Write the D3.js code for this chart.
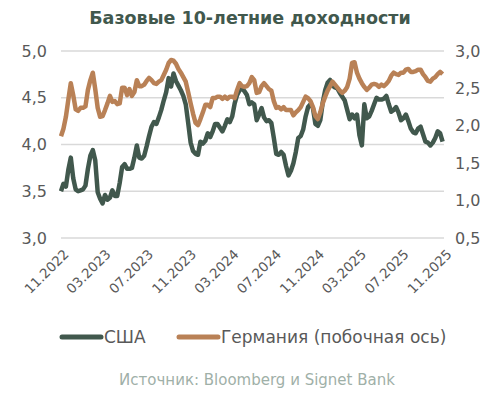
<!DOCTYPE html>
<html>
<head>
<meta charset="utf-8">
<script src="https://cdn.jsdelivr.net/npm/d3@7"></script>
<style>
  body { margin: 0; background: #fff; }
  svg text { font-family: "DejaVu Sans", sans-serif; }
</style>
</head>
<body>
<svg width="498" height="397"></svg>
<script>
// weekly observations, first week starts 1 Nov 2022
var usYields = [
  3.50, 3.58, 3.55, 3.73, 3.86, 3.64, 3.52, 3.50, 3.51, 3.52,
  3.56, 3.74, 3.88, 3.94, 3.83, 3.49, 3.42, 3.37, 3.46, 3.41,
  3.43, 3.51, 3.45, 3.45, 3.59, 3.76, 3.79, 3.74, 3.74, 3.75,
  3.86, 3.99, 3.86, 3.85, 3.88, 3.98, 4.09, 4.19, 4.24, 4.22,
  4.29, 4.37, 4.47, 4.56, 4.71, 4.62, 4.76, 4.68, 4.63, 4.58,
  4.52, 4.43, 4.23, 4.02, 3.93, 3.90, 3.89, 4.03, 4.01, 4.04,
  4.12, 4.08, 4.14, 4.22, 4.22, 4.18, 4.14, 4.20, 4.27, 4.24,
  4.30, 4.44, 4.53, 4.58, 4.60, 4.57, 4.53, 4.43, 4.45, 4.43,
  4.26, 4.32, 4.39, 4.29, 4.25, 4.26, 4.23, 4.07, 3.90, 3.89,
  3.92, 3.89, 3.77, 3.67, 3.72, 3.80, 3.92, 4.07, 4.09, 4.16,
  4.30, 4.40, 4.43, 4.39, 4.22, 4.20, 4.26, 4.45, 4.58, 4.66,
  4.69, 4.63, 4.61, 4.60, 4.55, 4.51, 4.47, 4.37, 4.27, 4.32,
  4.28, 4.32, 4.10, 3.99, 4.43, 4.28, 4.30, 4.36, 4.43, 4.50,
  4.48, 4.48, 4.49, 4.52, 4.43, 4.35, 4.37, 4.40, 4.34, 4.26,
  4.28, 4.32, 4.25, 4.17, 4.13, 4.12, 4.17, 4.19, 4.11, 4.03,
  4.02, 3.99, 4.02, 4.07, 4.14, 4.12, 4.03
];

var deYields = [
  1.86, 1.96, 2.12, 2.35, 2.57, 2.41, 2.22, 2.20, 2.24, 2.24,
  2.26, 2.48, 2.61, 2.71, 2.49, 2.24, 2.12, 2.13, 2.21, 2.30,
  2.40, 2.32, 2.33, 2.29, 2.30, 2.51, 2.51, 2.41, 2.49, 2.40,
  2.45, 2.61, 2.53, 2.53, 2.55, 2.60, 2.64, 2.61, 2.57, 2.56,
  2.59, 2.61, 2.68, 2.75, 2.84, 2.88, 2.87, 2.83, 2.76, 2.71,
  2.65, 2.59, 2.45, 2.30, 2.16, 2.04, 2.01, 2.09, 2.18, 2.28,
  2.28, 2.25, 2.37, 2.37, 2.39, 2.39, 2.36, 2.39, 2.36, 2.39,
  2.39, 2.37, 2.48, 2.57, 2.53, 2.52, 2.53, 2.57, 2.65, 2.61,
  2.44, 2.45, 2.53, 2.57, 2.53, 2.49, 2.47, 2.33, 2.24, 2.25,
  2.22, 2.25, 2.21, 2.21, 2.21, 2.14, 2.18, 2.21, 2.25, 2.32,
  2.39, 2.37, 2.33, 2.25, 2.13, 2.09, 2.18, 2.30, 2.39, 2.47,
  2.53, 2.59, 2.55, 2.51, 2.47, 2.44, 2.47, 2.52, 2.63, 2.84,
  2.85, 2.71, 2.63, 2.57, 2.52, 2.48, 2.51, 2.55, 2.56, 2.55,
  2.52, 2.55, 2.53, 2.56, 2.60, 2.67, 2.71, 2.69, 2.68, 2.71,
  2.71, 2.75, 2.76, 2.72, 2.72, 2.73, 2.75, 2.75, 2.69, 2.65,
  2.60, 2.59, 2.63, 2.65, 2.69, 2.72, 2.69
];

var firstWeek = new Date(2022, 10, 1);
var weeks = usYields.map(function(d, i) { return d3.timeDay.offset(firstWeek, 7 * i); });

var xTickLabels = ['11.2022', '03.2023', '07.2023', '11.2023', '03.2024',
                   '07.2024', '11.2024', '03.2025', '07.2025', '11.2025'];
var leftTicks = [3.0, 3.5, 4.0, 4.5, 5.0];
var rightTicks = [0.5, 1.0, 1.5, 2.0, 2.5, 3.0];

var seriesNames = ['США', 'Германия (побочная ось)'];
var colors = ['#41584d', '#b98156'];

var parseMonth = d3.timeParse('%m.%Y');
var xTicks = xTickLabels.map(parseMonth);

var svg = d3.select('svg');
var plotLeft = 61, plotRight = 444, plotTop = 51, plotBottom = 238;

var xScale = d3.scaleTime()
    .domain([parseMonth('11.2022'), parseMonth('11.2025')])
    .range([plotLeft, plotRight]);

var yLeft = d3.scaleLinear().domain([3, 5]).range([plotBottom, plotTop]);
var yRight = d3.scaleLinear().domain([0.5, 3]).range([plotBottom, plotTop]);

// title
svg.append('text')
    .attr('x', 250)
    .attr('y', 24)
    .attr('text-anchor', 'middle')
    .style('font-size', '17.5px')
    .style('font-weight', 'bold')
    .style('fill', '#41584d')
    .text('Базовые 10-летние доходности');

// grid
svg.append('g')
    .selectAll('line')
    .data(leftTicks)
    .enter()
    .append('line')
    .attr('x1', plotLeft)
    .attr('x2', plotRight)
    .attr('y1', function(d) { return yLeft(d); })
    .attr('y2', function(d) { return yLeft(d); })
    .style('stroke', '#d9d9d9')
    .style('stroke-width', 1.5);

var fmt = function(d) { return d3.format('.1f')(d).replace('.', ','); };

var leftAxis = d3.axisLeft(yLeft).tickValues(leftTicks).tickSize(0).tickPadding(14).tickFormat(fmt);
var gl = svg.append('g')
    .attr('transform', 'translate(' + plotLeft + ',0)')
    .call(leftAxis);

var rightAxis = d3.axisRight(yRight).tickValues(rightTicks).tickSize(0).tickPadding(11).tickFormat(fmt);
var gr = svg.append('g')
    .attr('transform', 'translate(' + plotRight + ',0)')
    .call(rightAxis);

[gl, gr].forEach(function(g) {
  g.select('.domain').remove();
  g.selectAll('text')
      .style('font-family', '"DejaVu Sans", sans-serif')
      .style('font-size', '16px')
      .style('fill', '#595959');
});

var xAxis = d3.axisBottom(xScale)
    .tickValues(xTicks)
    .tickSize(0)
    .tickFormat(d3.timeFormat('%m.%Y'));

var gx = svg.append('g')
    .attr('transform', 'translate(0,' + plotBottom + ')')
    .call(xAxis);
gx.select('.domain').remove();
gx.selectAll('text')
    .attr('text-anchor', 'end')
    .attr('dx', 0)
    .attr('dy', 0)
    .attr('transform', 'translate(6,15) rotate(-45)')
    .style('font-family', '"DejaVu Sans", sans-serif')
    .style('font-size', '13.5px')
    .style('fill', '#595959');

// lines
var usLine = d3.line()
    .x(function(d, i) { return xScale(weeks[i]); })
    .y(function(d) { return yLeft(d); });

var deLine = d3.line()
    .x(function(d, i) { return xScale(weeks[i]); })
    .y(function(d) { return yRight(d); });

svg.append('path')
    .datum(usYields)
    .attr('d', usLine)
    .style('fill', 'none')
    .style('stroke', colors[0])
    .style('stroke-width', 4.5)
    .style('stroke-linejoin', 'round');

svg.append('path')
    .datum(deYields)
    .attr('d', deLine)
    .style('fill', 'none')
    .style('stroke', colors[1])
    .style('stroke-width', 4.5)
    .style('stroke-linejoin', 'round');

// legend
var legendX = [60, 177];
var legend = svg.append('g');
seriesNames.forEach(function(name, i) {
  legend.append('line')
      .attr('x1', legendX[i] + 2)
      .attr('x2', legendX[i] + 41)
      .attr('y1', 337)
      .attr('y2', 337)
      .style('stroke', colors[i])
      .style('stroke-width', 5)
      .style('stroke-linecap', 'round');
  legend.append('text')
      .attr('x', legendX[i] + 44)
      .attr('y', 343)
      .style('font-size', '17px')
      .style('fill', '#595959')
      .text(name);
});

svg.append('text')
    .attr('x', 257)
    .attr('y', 385)
    .attr('text-anchor', 'middle')
    .style('font-size', '15px')
    .style('fill', '#9fb0a8')
    .text('Источник: Bloomberg и Signet Bank');
</script>
</body>
</html>
